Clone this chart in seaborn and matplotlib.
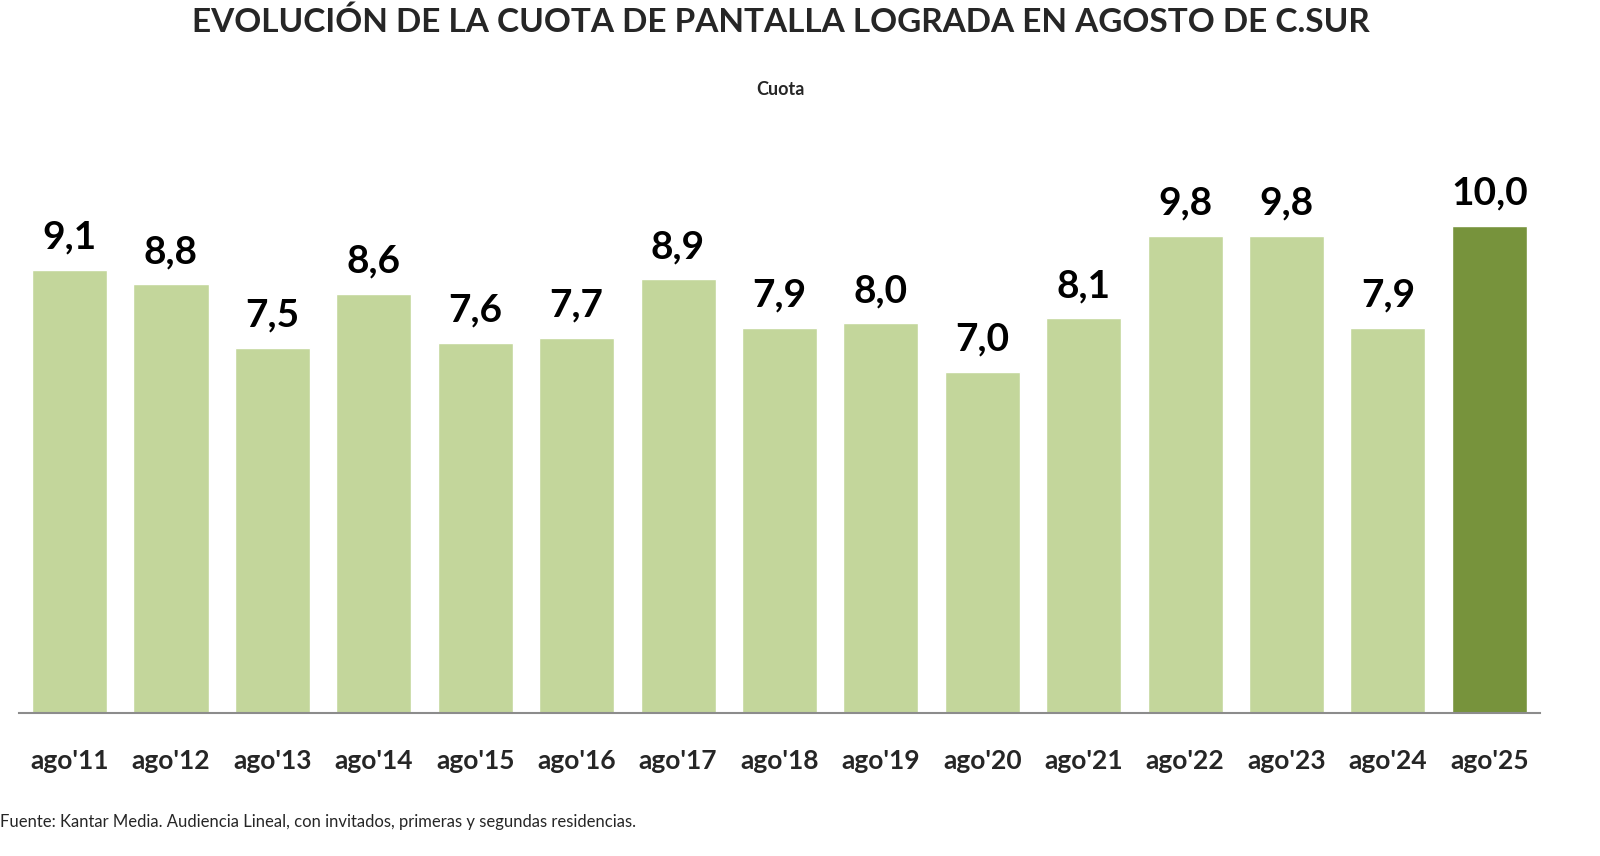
import numpy as np
import pandas as pd
import matplotlib
matplotlib.use("Agg")
import matplotlib.pyplot as plt
import seaborn as sns

sns.set_style("white")
plt.rcParams['font.family'] = ['Lato', 'DejaVu Sans']

# Data
months = ["ago'11", "ago'12", "ago'13", "ago'14", "ago'15", "ago'16", "ago'17", "ago'18",
          "ago'19", "ago'20", "ago'21", "ago'22", "ago'23", "ago'24", "ago'25"]
cuota = [9.1, 8.8, 7.5, 8.6, 7.6, 7.7, 8.9, 7.9, 8.0, 7.0, 8.1, 9.8, 9.8, 7.9, 10.0]

light_green = "#C3D69B"
dark_green = "#77933C"
colors = [light_green] * (len(months) - 1) + [dark_green]

df = pd.DataFrame({'Mes': months, 'Cuota': cuota})

fig = plt.figure(figsize=(16, 8.56), dpi=100)
ax = fig.add_axes([0.0118, 0.167, 0.9507, 0.683])

sns.barplot(data=df, x='Mes', y='Cuota', hue='Mes', palette=colors, legend=False,
            width=0.74, saturation=1, ax=ax)

for i, v in enumerate(cuota):
    ax.annotate(f"{v:.1f}".replace('.', ','), xy=(i, v), xytext=(0, 11),
                textcoords='offset points', ha='center', va='bottom',
                fontsize=28, fontweight='bold', color='black')

ax.set_xlim(-0.5, len(months) - 0.5)
ax.set_ylim(0, 12)
ax.set_xlabel("")
ax.set_ylabel("")
ax.set_yticks([])
ax.tick_params(axis='x', length=0, pad=26, labelsize=19)
for lab in ax.get_xticklabels():
    lab.set_fontweight('bold')

sns.despine(ax=ax, left=True, top=True, right=True)
ax.spines['bottom'].set_color('#8c8c8c')
ax.spines['bottom'].set_linewidth(1.5)

fig.text(0.488, 0.975, "EVOLUCIÓN DE LA CUOTA DE PANTALLA LOGRADA EN AGOSTO DE C.SUR",
         ha='center', va='center', fontsize=24, fontweight='bold')
fig.text(0.488, 0.896, "Cuota", ha='center', va='center', fontsize=13, fontweight='bold')
fig.text(0.0, 0.040, "Fuente: Kantar Media. Audiencia Lineal, con invitados, primeras y segundas residencias.",
         ha='left', va='center', fontsize=12)

fig.savefig("out.png", dpi=100)
